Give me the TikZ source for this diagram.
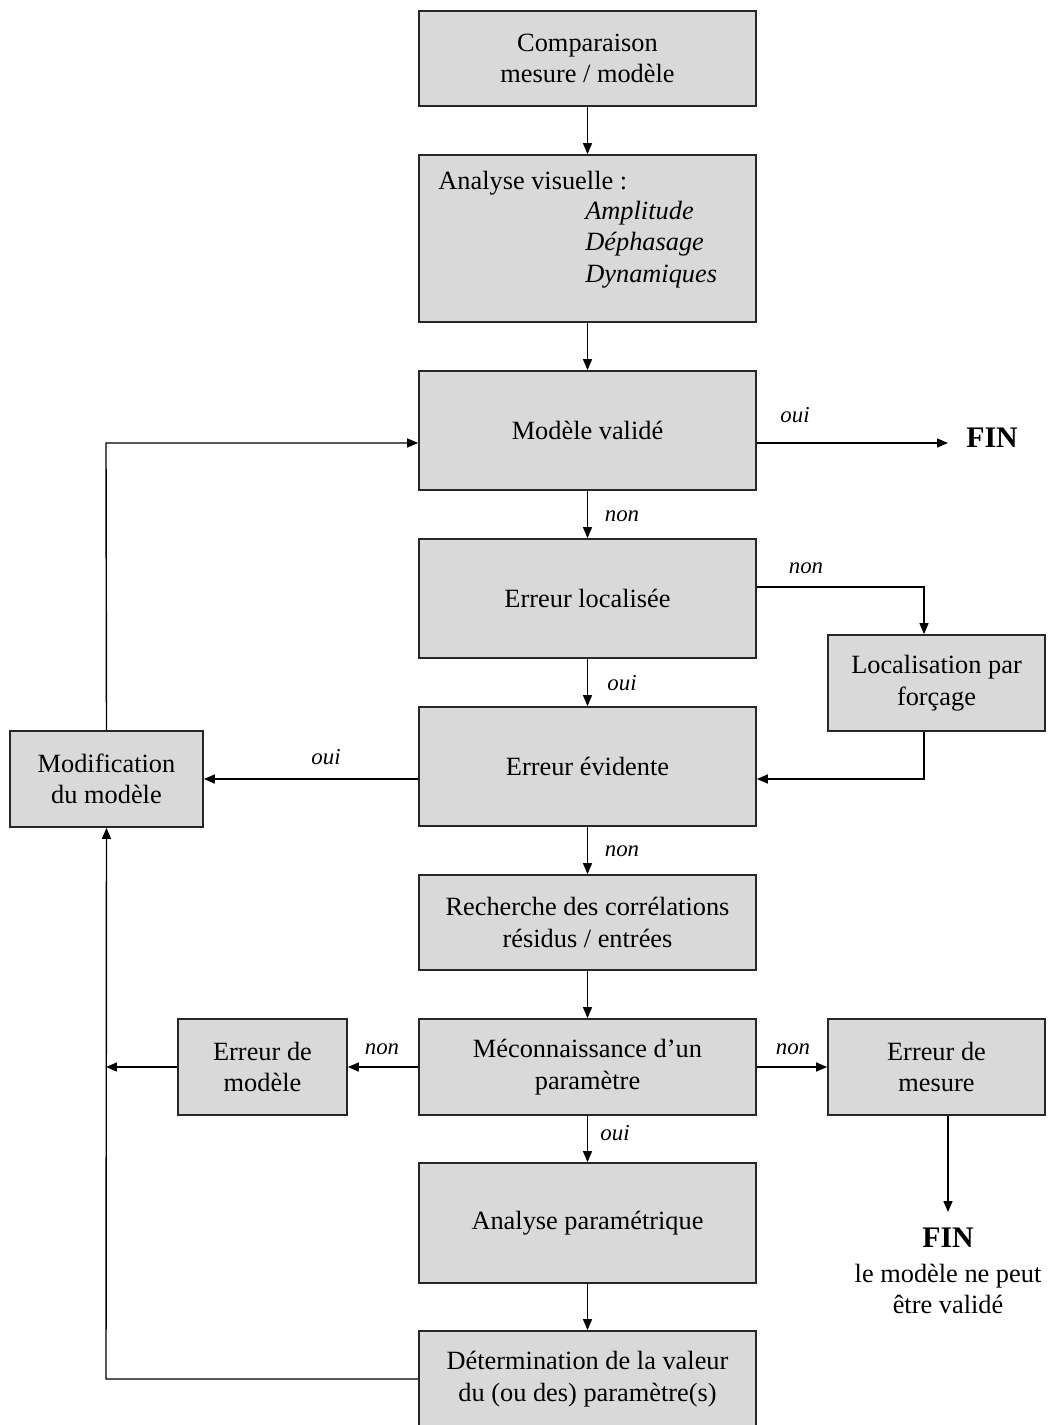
\documentclass[tikz,border=0pt]{standalone}
\usepackage{fontspec}
\setmainfont{Liberation Serif}
\usetikzlibrary{arrows.meta}
\begin{document}
\begin{tikzpicture}[x=0.02cm,y=-0.02cm,
  box/.style={draw=black!85,line width=1pt,fill=black!15,minimum width=6.74cm,minimum height=1.9cm,align=center,font=\fontsize{15}{18}\selectfont,inner sep=0pt},
  sbox/.style={box,minimum width=4.34cm,minimum height=1.92cm},
  lab/.style={font=\fontsize{13}{15}\selectfont\itshape,inner sep=0pt},
  fin/.style={font=\fontsize{17}{19}\selectfont\bfseries,inner sep=0pt},
  arr/.style={line width=0.8pt,-{Triangle[length=2.2mm,width=1.8mm]}},
  ln/.style={line width=0.8pt}]
\useasboundingbox (0,0) rectangle (1048,1425);
\begin{scope}
\clip (0,0) rectangle (1048,1425);
\node[box] (cmp) at (587.5,58.5) {Comparaison\\mesure / modèle};
\node[box,minimum height=3.34cm] (ana) at (587.5,238.5) {};
\node[font=\fontsize{15}{18}\selectfont,anchor=west,inner sep=0pt] (anat) at (438,183) {Analyse visuelle :};
\node[font=\fontsize{15}{18}\selectfont\itshape,anchor=west,inner sep=0pt] (amp) at (585,213) {Amplitude};
\node[font=\fontsize{15}{18}\selectfont\itshape,anchor=west,inner sep=0pt] (deph) at (585,244) {Déphasage};
\node[font=\fontsize{15}{18}\selectfont\itshape,anchor=west,inner sep=0pt] (dyn) at (585,277) {Dynamiques};
\node[box,minimum height=2.38cm] (val) at (587.5,430.5) {Modèle validé};
\node[box,minimum height=2.38cm] (loc) at (587.5,598.5) {Erreur localisée};
\node[sbox] (force) at (936.5,683) {Localisation par\\forçage};
\node[box,minimum height=2.38cm] (evid) at (587.5,766.5) {Erreur évidente};
\node[box,minimum width=3.86cm,minimum height=1.92cm] (modif) at (106.5,779) {Modification\\du modèle};
\node[box] (rech) at (587.5,922.5) {Recherche des corrélations\\résidus / entrées};
\node[box,minimum height=1.92cm] (mecon) at (587.5,1067) {Méconnaissance d’un\\paramètre};
\node[box,minimum width=3.38cm,minimum height=1.92cm] (errmod) at (262.5,1067) {Erreur de\\modèle};
\node[sbox] (errmes) at (936.5,1067) {Erreur de\\mesure};
\node[box,minimum height=2.4cm] (param) at (587.5,1223) {Analyse paramétrique};
\node[box,minimum height=1.92cm] (det) at (587.5,1379) {Détermination de la valeur\\du (ou des) paramètre(s)};
\end{scope}
\node[fin] (fin1) at (992,438) {FIN};
\node[fin] (fin2) at (948,1238) {FIN};
\node[font=\fontsize{15}{18}\selectfont,align=center,inner sep=0pt] (fintxt) at (948,1289) {le modèle ne peut\\être validé};
\coordinate (fin1w) at (948,443);
\coordinate (fin2n) at (948,1212);
\coordinate (c1) at (924,587);
\coordinate (c2) at (924,779);
\coordinate (c3) at (106,443);
\coordinate (c4) at (106,1067);
\coordinate (c5) at (106,1379);
% labels
\node[lab] (l1) at (622,516) {non};
\node[lab] (l2) at (795,415) {oui};
\node[lab] (l3) at (806,568) {non};
\node[lab] (l4) at (622,683) {oui};
\node[lab] (l5) at (326,757) {oui};
\node[lab] (l6) at (622,851) {non};
\node[lab] (l7) at (382,1049) {non};
\node[lab] (l8) at (793,1049) {non};
\node[lab] (l9) at (615,1133) {oui};
% connectors
\draw[arr] (cmp) -- (ana);
\draw[arr] (ana) -- (val);
\draw[arr] (val) -- (loc);
\draw[arr] (val.east |- fin1w) -- (fin1w);
\draw[arr] (loc.east |- c1) -- (c1) -- (force.north -| c1);
\draw[arr] (force.south -| c2) -- (c2) -- (evid.east |- c2);
\draw[arr] (loc) -- (evid);
\draw[arr] (evid.west |- modif) -- (modif.east);
\draw[arr] (modif.north) -- (c3) -- (val.west |- c3);
\draw[arr] (evid) -- (rech);
\draw[arr] (rech) -- (mecon);
\draw[arr] (mecon.west) -- (errmod.east);
\draw[arr] (mecon.east) -- (errmes.west);
\draw[arr] (errmod.west) -- (c4);
\draw[arr] (errmes.south -| fin2n) -- (fin2n);
\draw[arr] (mecon) -- (param);
\draw[arr] (param) -- (det);
\draw[arr] (det.west) -- (c5) -- (modif.south);
\end{tikzpicture}
\end{document}
